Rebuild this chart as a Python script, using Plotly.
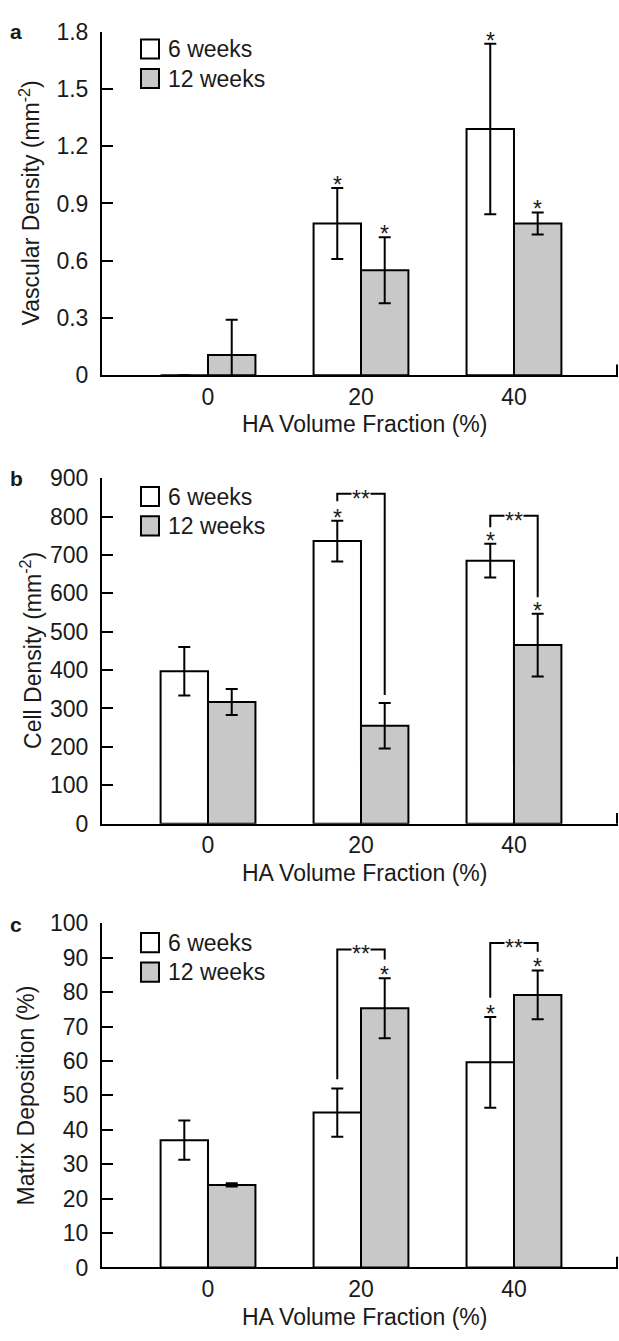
import plotly.graph_objects as go

W, H = 619, 1341
FONT = "Liberation Sans, Arial, Helvetica, sans-serif"
TXT = "#1a1a1a"
GRAY = "#c8c8c8"
FS = 23

# ---------------- data ----------------
categories = ["0", "20", "40"]
series_names = ["6 weeks", "12 weeks"]
x_title = "HA Volume Fraction (%)"

# Panel a: vascular density (mm^-2)
vasc_6 = [0.0, 0.795, 1.29]
vasc_6_err = [0.0, 0.186, 0.446]
vasc_12 = [0.106, 0.55, 0.795]
vasc_12_err = [0.185, 0.173, 0.058]
vasc_6_star = [False, True, True]
vasc_12_star = [False, True, True]
vasc_ticks = [0, 0.3, 0.6, 0.9, 1.2, 1.5, 1.8]
vasc_bracket_top = [None, None, None]
vasc_bracket_left = [None, None, None]
vasc_bracket_right = [None, None, None]

# Panel b: cell density (mm^-2)
cell_6 = [397, 736, 685]
cell_6_err = [63, 53, 44]
cell_12 = [317, 255, 465]
cell_12_err = [34, 59, 82]
cell_6_star = [False, True, True]
cell_12_star = [False, False, True]
cell_ticks = [0, 100, 200, 300, 400, 500, 600, 700, 800, 900]
cell_bracket_top = [None, 859, 802]
cell_bracket_left = [None, 840, 772]
cell_bracket_right = [None, 335, 590]

# Panel c: matrix deposition (%)
matrix_6 = [37.0, 45.0, 59.6]
matrix_6_err = [5.7, 7.0, 13.2]
matrix_12 = [24.0, 75.3, 79.2]
matrix_12_err = [0.5, 8.7, 7.1]
matrix_6_star = [False, False, True]
matrix_12_star = [False, True, True]
matrix_ticks = [0, 10, 20, 30, 40, 50, 60, 70, 80, 90, 100]
matrix_bracket_top = [None, 92.4, 94.3]
matrix_bracket_left = [None, 54.7, 78.4]
matrix_bracket_right = [None, 89.5, 91.7]

panels = [
    dict(letter="a", ytitle="Vascular Density (mm<sup>-2</sup>)", ticks=vasc_ticks,
         v6=vasc_6, e6=vasc_6_err, v12=vasc_12, e12=vasc_12_err,
         s6=vasc_6_star, s12=vasc_12_star,
         bt=vasc_bracket_top, bl=vasc_bracket_left, br=vasc_bracket_right,
         top=19, bottom=369.5, ytx=30, lt=27, ly=18.5),
    dict(letter="b", ytitle="Cell Density (mm<sup>-2</sup>)", ticks=cell_ticks,
         v6=cell_6, e6=cell_6_err, v12=cell_12, e12=cell_12_err,
         s6=cell_6_star, s12=cell_12_star,
         bt=cell_bracket_top, bl=cell_bracket_left, br=cell_bracket_right,
         top=474.3, bottom=826.7, ytx=31, lt=483.3, ly=475),
    dict(letter="c", ytitle="Matrix Deposition (%)", ticks=matrix_ticks,
         v6=matrix_6, e6=matrix_6_err, v12=matrix_12, e12=matrix_12_err,
         s6=matrix_6_star, s12=matrix_12_star,
         bt=matrix_bracket_top, bl=matrix_bracket_left, br=matrix_bracket_right,
         top=928.3, bottom=1279.3, ytx=26, lt=938.3, ly=930),
]

# ---------------- layout helpers ----------------
X_LEFT, X_RIGHT = 102, 618
BARGAP = 0.38
HALF = (1 - BARGAP) / 4  # offset of each bar centre from the category centre


def px(p):
    return p / W


def py(p):
    return 1 - p / H


xpos = list(range(len(categories)))
fig = go.Figure()
shapes = []
annotations = []
layout_axes = {}

for k, P in enumerate(panels):
    sfx = "" if k == 0 else str(k + 1)
    xa, ya = "x" + sfx, "y" + sfx
    err_style = dict(type="data", visible=True, color="black", thickness=2, width=6)
    fig.add_trace(go.Bar(
        x=xpos, y=P["v6"], name=series_names[0], xaxis=xa, yaxis=ya,
        marker=dict(color="white", line=dict(color="black", width=2)),
        error_y=dict(array=P["e6"], **err_style), showlegend=False))
    fig.add_trace(go.Bar(
        x=xpos, y=P["v12"], name=series_names[1], xaxis=xa, yaxis=ya,
        marker=dict(color=GRAY, line=dict(color="black", width=2)),
        error_y=dict(array=P["e12"], **err_style), showlegend=False))

    # significance brackets
    for i in xpos:
        if P["bt"][i] is None:
            continue
        fig.add_trace(go.Scatter(
            x=[i - HALF, i - HALF, i + HALF, i + HALF],
            y=[P["bl"][i], P["bt"][i], P["bt"][i], P["br"][i]],
            mode="lines", line=dict(color="black", width=2),
            xaxis=xa, yaxis=ya, showlegend=False, hoverinfo="skip"))
        annotations.append(dict(
            x=i, y=P["bt"][i], xref=xa, yref=ya, text="**", showarrow=False,
            font=dict(family=FONT, size=FS, color=TXT), bgcolor="white",
            borderpad=0, yanchor="middle", xanchor="center", yshift=-5))

    # stars over error bars
    for vals, errs, stars, off in ((P["v6"], P["e6"], P["s6"], -HALF),
                                   (P["v12"], P["e12"], P["s12"], HALF)):
        for i in xpos:
            if stars[i]:
                annotations.append(dict(
                    x=i + off, y=vals[i] + errs[i], xref=xa, yref=ya, text="*",
                    showarrow=False, font=dict(family=FONT, size=FS, color=TXT),
                    yanchor="middle", xanchor="center", yshift=3))

    ydom = [py(P["bottom"]), py(P["top"])]
    layout_axes["xaxis" + sfx] = dict(
        domain=[px(X_LEFT), px(X_RIGHT)], anchor=ya, range=[-0.693, 2.68],
        tickvals=xpos, ticktext=categories, ticks="", showline=True,
        linecolor="black", linewidth=2, showgrid=False, zeroline=False,
        tickfont=dict(family=FONT, size=FS, color=TXT), ticklabelstandoff=0,
        fixedrange=True)
    layout_axes["yaxis" + sfx] = dict(
        domain=ydom, anchor=xa, range=[P["ticks"][0], P["ticks"][-1]],
        tickvals=P["ticks"], ticks="inside", ticklen=11, tickwidth=2,
        tickcolor="black", showline=True, linecolor="black", linewidth=2,
        showgrid=False, zeroline=False,
        tickfont=dict(family=FONT, size=FS, color=TXT), ticklabelstandoff=7,
        fixedrange=True)

    # small end tick at the right of the x axis
    shapes.append(dict(type="line", xref="paper", yref="paper",
                       x0=px(X_RIGHT - 1), x1=px(X_RIGHT - 1),
                       y0=py(P["bottom"]), y1=py(P["bottom"] - 11),
                       line=dict(color="black", width=2)))

    # custom legend
    for j, (name, fill) in enumerate(zip(series_names, ["white", GRAY])):
        t = P["lt"] + 30 * j
        shapes.append(dict(type="rect", xref="paper", yref="paper",
                           x0=px(141), x1=px(159), y0=py(t + 19.5), y1=py(t),
                           fillcolor=fill, line=dict(color="black", width=2)))
        annotations.append(dict(x=px(166), y=py(t + 10), xref="paper", yref="paper",
                                text=name, showarrow=False, xanchor="left",
                                yanchor="middle",
                                font=dict(family=FONT, size=FS, color=TXT)))

    # axis titles
    annotations.append(dict(x=px((X_LEFT + X_RIGHT) / 2 + 4), y=py(P["bottom"] + 50),
                            xref="paper", yref="paper", text=x_title, showarrow=False,
                            xanchor="center", yanchor="middle",
                            font=dict(family=FONT, size=FS, color=TXT)))
    annotations.append(dict(x=px(P["ytx"]), y=py((P["top"] + P["bottom"]) / 2),
                            xref="paper", yref="paper", text=P["ytitle"],
                            showarrow=False, textangle=-90, xanchor="center",
                            yanchor="middle",
                            font=dict(family=FONT, size=FS, color=TXT)))
    # panel letter
    annotations.append(dict(x=px(16), y=py(P["ly"]), xref="paper", yref="paper",
                            text="<b>" + P["letter"] + "</b>", showarrow=False,
                            xanchor="center", yanchor="middle",
                            font=dict(family=FONT, size=21, color=TXT)))

fig.update_layout(
    width=W, height=H, margin=dict(l=0, r=0, t=0, b=0),
    paper_bgcolor="white", plot_bgcolor="white",
    barmode="group", bargap=BARGAP, bargroupgap=0,
    shapes=shapes, annotations=annotations, showlegend=False,
    font=dict(family=FONT, color=TXT),
    **layout_axes)

fig.write_html("out.html", config={"displayModeBar": False},
               post_script="document.body.style.margin='0';document.body.style.overflow='hidden';")
